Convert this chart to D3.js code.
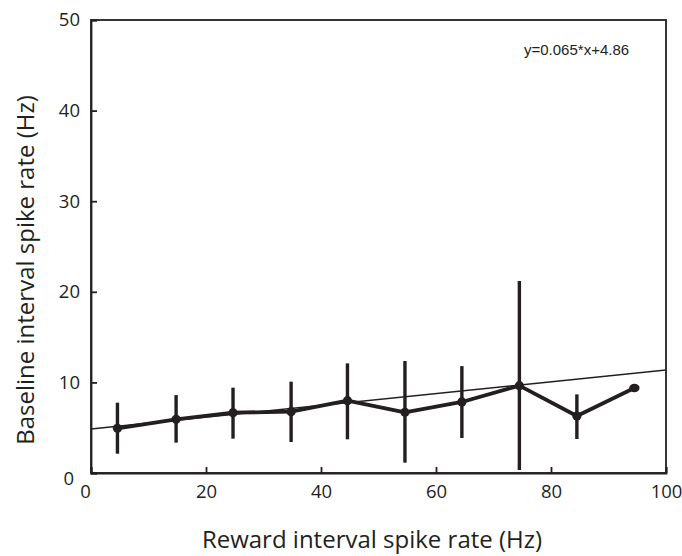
<!DOCTYPE html>
<html>
<head>
<meta charset="utf-8">
<script src="https://cdn.jsdelivr.net/npm/d3@7"></script>
<style>
  body { margin: 0; background: #fff; }
  svg text { fill: #231f20; }
  .tick text { font-family: "Open Sans", sans-serif; font-size: 18.5px; }
  .label { font-family: "Open Sans", sans-serif; font-size: 24px; }
  .eq { font-family: "Liberation Sans", Arial, sans-serif; font-size: 15px; }
</style>
</head>
<body>
<svg width="682" height="556"></svg>
<script>
// values
const rewardRate = [4.6, 14.8, 24.7, 34.8, 44.6, 54.6, 64.5, 74.5, 84.5, 94.5]
const baseMean   = [4.93, 5.93, 6.66, 6.77, 7.98, 6.7, 7.84, 9.64, 6.29, 9.38]
const baseHigh   = [7.76, 8.6, 9.42, 10.08, 12.1, 12.36, 11.8, 21.2, 8.68, null]
const baseLow    = [2.13, 3.35, 3.79, 3.42, 3.72, 1.14, 3.86, 0.33, 3.75, null]
const xTicks = [0, 20, 40, 60, 80, 100]
const yTicks = [0, 10, 20, 30, 40, 50]
const fitSlope = 0.065
const fitIntercept = 4.86
const fitLabel = 'y=0.065*x+4.86'

const ink = '#231f20'
const svg = d3.select('svg')
const margin = { top: 20, right: 16, bottom: 83, left: 91 }
const width = 682 - margin.left - margin.right
const height = 556 - margin.top - margin.bottom

const chart = svg.append('g').attr('transform', `translate(${margin.left}, ${margin.top})`)

const xScale = d3.scaleLinear().domain([0, 100]).range([0, width])
const yScale = d3.scaleLinear().domain([0, 50]).range([height, 0])

const data = rewardRate.map((x, i) => ({ x: x, y: baseMean[i], hi: baseHigh[i], lo: baseLow[i] }))

// frame
chart.append('rect')
  .attr('x', 0).attr('y', 0)
  .attr('width', width).attr('height', height)
  .attr('fill', 'none').attr('stroke', ink).attr('stroke-width', 1.8)

// axes, ticks point inward
const xAxis = chart.append('g')
  .attr('transform', `translate(0, ${height})`)
  .call(d3.axisBottom(xScale).tickValues(xTicks).tickSize(-6).tickPadding(12))
const yAxis = chart.append('g')
  .call(d3.axisLeft(yScale).tickValues(yTicks).tickSize(-6).tickPadding(11))

for (const ax of [xAxis, yAxis]) {
  ax.select('.domain').attr('stroke', ink).attr('stroke-width', 1.8)
  ax.selectAll('.tick line').attr('stroke', ink).attr('stroke-width', 1.8)
  ax.selectAll('.tick text').attr('fill', ink)
}
// the zero labels sit a bit off their ticks
xAxis.selectAll('.tick text').filter(d => d === 0).attr('dx', -6)
yAxis.selectAll('.tick text').filter(d => d === 0).attr('dx', -6).attr('dy', '0.6em')

// fit line
chart.append('line')
  .attr('x1', xScale(0)).attr('y1', yScale(fitIntercept))
  .attr('x2', xScale(100)).attr('y2', yScale(fitIntercept + fitSlope * 100))
  .attr('stroke', ink).attr('stroke-width', 1.6)

// error bars
chart.selectAll('.err')
  .data(data.filter(d => d.hi != null))
  .enter().append('line')
  .attr('class', 'err')
  .attr('x1', d => xScale(d.x)).attr('x2', d => xScale(d.x))
  .attr('y1', d => yScale(d.hi)).attr('y2', d => yScale(d.lo))
  .attr('stroke', ink).attr('stroke-width', 3.4)

// mean line
const line = d3.line().x(d => xScale(d.x)).y(d => yScale(d.y))
chart.append('path')
  .datum(data)
  .attr('d', line)
  .attr('fill', 'none')
  .attr('stroke', ink).attr('stroke-width', 3.8)
  .attr('stroke-linejoin', 'round')

chart.selectAll('.dot')
  .data(data)
  .enter().append('ellipse')
  .attr('class', 'dot')
  .attr('cx', d => xScale(d.x)).attr('cy', d => yScale(d.y))
  .attr('rx', (d, i) => i === data.length - 1 ? 5.2 : 4.6)
  .attr('ry', (d, i) => i === data.length - 1 ? 4.2 : 4.6)
  .attr('fill', ink)

// equation
chart.append('text')
  .attr('class', 'eq')
  .attr('x', 524 - margin.left)
  .attr('y', 55 - margin.top)
  .text(fitLabel)

// axis titles
svg.append('text')
  .attr('class', 'label')
  .attr('x', 372)
  .attr('y', 548)
  .attr('text-anchor', 'middle')
  .text('Reward interval spike rate (Hz)')

svg.append('text')
  .attr('class', 'label')
  .attr('transform', 'translate(34, 270) rotate(-90)')
  .attr('text-anchor', 'middle')
  .text('Baseline interval spike rate (Hz)')
</script>
</body>
</html>
